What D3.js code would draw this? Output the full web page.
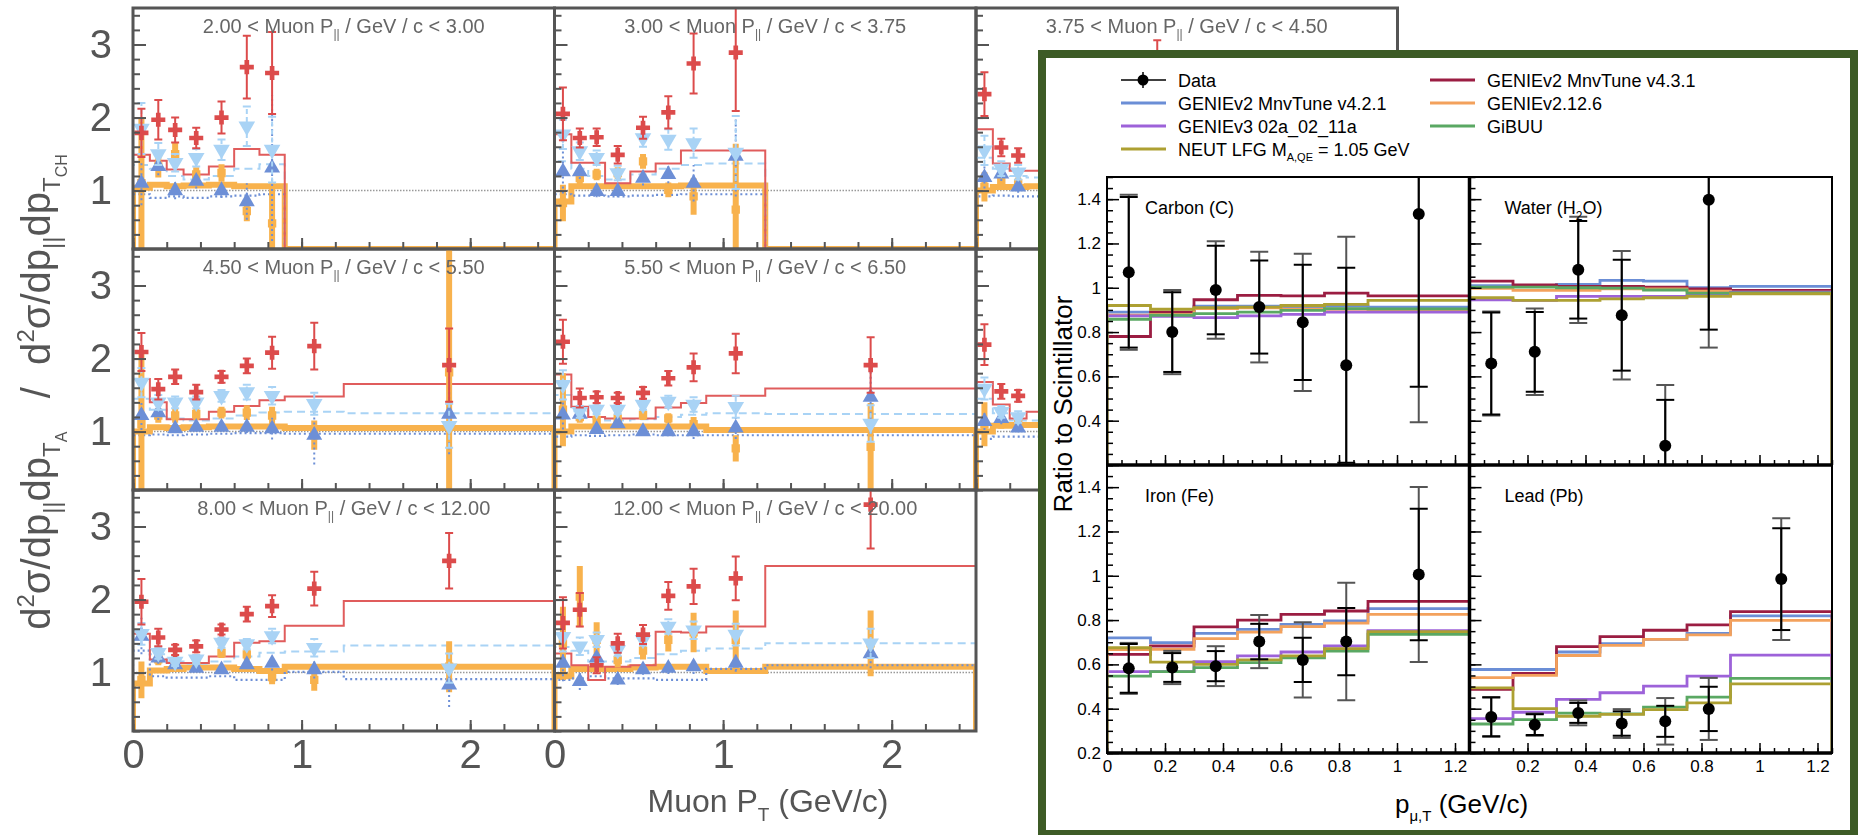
<!DOCTYPE html>
<html>
<head>
<meta charset="utf-8">
<script src="https://cdn.jsdelivr.net/npm/d3@7"></script>
<style>
  body { margin: 0; background: #fff; }
  svg { display: block; }
  text { white-space: pre; }
</style>
</head>
<body>
<div id="chart"></div>
<script>
// ---------- left figure: ratio A / CH in slices of muon p|| ----------
const ptEdges = [0, 0.1, 0.2, 0.3, 0.45, 0.6, 0.75, 0.9, 1.25, 2.5];
const ptCenters = [0.05, 0.15, 0.25, 0.375, 0.525, 0.675, 0.825, 1.075, 1.875];
const sliceLow = ["2.00", "3.00", "3.75", "4.50", "5.50", "", "8.00", "12.00"];
const sliceHigh = ["3.00", "3.75", "4.50", "5.50", "6.50", "", "12.00", "20.00"];

// red crosses
const redVal = [
  [1.79, 1.97, 1.83, 1.72, 2.0, 2.69, 2.61],
  [2.05, 1.72, 1.73, 1.49, 1.86, 2.07, 2.74, 2.89],
  [2.32, 1.59, 1.48, null, null, null, null, 2.6],
  [2.09, 1.58, 1.75, 1.54, 1.75, 1.9, 2.08, 2.17, 1.91],
  [2.23, 1.46, 1.47, 1.46, 1.53, 1.73, 1.88, 2.07, 1.91],
  [2.19, 1.55, 1.49],
  [1.97, 1.48, 1.31, 1.36, 1.59, 1.8, 1.91, 2.15, 2.53],
  [1.68, 1.86, 1.1, 1.4, 1.52, 2.05, 2.18, 2.29, 3.3]
];
const redErr = [
  [0.33, 0.27, 0.17, 0.14, 0.22, 0.43, 0.56],
  [0.36, 0.13, 0.12, 0.12, 0.15, 0.22, 0.41, 0.8],
  [0.3, 0.12, 0.1, null, null, null, null, 0.46],
  [0.26, 0.14, 0.1, 0.1, 0.08, 0.1, 0.22, 0.32, 0.5],
  [0.3, 0.13, 0.08, 0.07, 0.08, 0.1, 0.19, 0.27, 0.38],
  [0.28, 0.1, 0.08],
  [0.31, 0.12, 0.07, 0.08, 0.07, 0.1, 0.15, 0.23, 0.38],
  [0.35, 0.23, 0.11, 0.13, 0.13, 0.19, 0.24, 0.3, 0.6]
];
// light blue down triangles
const downVal = [
  [1.85, 1.5, 1.38, 1.45, 1.56, 1.88, 1.56],
  [1.77, 1.54, 1.45, 1.24, 1.72, 1.7, 1.65, 1.52],
  [1.55, 1.3, 1.25],
  [1.67, 1.4, 1.4, 1.4, 1.49, 1.54, 1.49, 1.38, 1.08],
  [1.64, 1.27, 1.3, 1.3, 1.37, 1.41, 1.37, 1.34, 1.11],
  [1.59, 1.27, 1.2],
  [1.53, 1.27, 1.15, 1.18, 1.41, 1.39, 1.5, 1.34, 1.06],
  [1.49, 1.36, 1.45, 1.31, 1.45, 1.63, 1.58, 1.52, 1.4]
];
const downErr = [
  [0.35, 0.15, 0.12, 0.12, 0.14, 0.27, 0.45],
  [0.2, 0.12, 0.1, 0.1, 0.12, 0.14, 0.2, 0.5],
  [0.2, 0.1, 0.1],
  [0.2, 0.1, 0.08, 0.08, 0.08, 0.1, 0.12, 0.15, 0.3],
  [0.2, 0.08, 0.06, 0.06, 0.07, 0.08, 0.1, 0.15, 0.25],
  [0.15, 0.08, 0.08],
  [0.15, 0.08, 0.06, 0.06, 0.07, 0.07, 0.1, 0.12, 0.2],
  [0.2, 0.12, 0.1, 0.08, 0.08, 0.1, 0.12, 0.15, 0.2]
];
// blue up triangles
const upVal = [
  [1.1, 1.33, 1.0, 1.13, 1.0, 0.85, 1.31],
  [1.26, 1.26, 0.99, 0.99, 1.17, 1.22, 1.1, 1.47],
  [1.18, 1.23, 1.05],
  [1.22, 1.26, 1.04, 1.06, 1.06, 1.06, 1.04, 0.95, 1.24],
  [1.23, 1.24, 1.03, 1.11, 1.0, 1.0, 1.0, 1.05, 1.47],
  [1.14, 1.18, 1.05],
  [1.5, 1.2, 1.11, 1.06, 1.04, 1.11, 1.13, 1.04, 0.83],
  [1.13, 0.88, 1.2, 0.9, 1.04, 1.06, 1.08, 1.13, 1.26]
];
const upErr = [
  [0.3, 0.12, 0.12, 0.1, 0.1, 0.25, 1.0],
  [0.3, 0.1, 0.08, 0.08, 0.1, 0.12, 0.25, 0.55],
  [0.15, 0.1, 0.08],
  [0.2, 0.1, 0.06, 0.06, 0.06, 0.08, 0.15, 0.4, 0.55],
  [0.2, 0.08, 0.06, 0.06, 0.05, 0.06, 0.1, 0.15, 0.5],
  [0.12, 0.08, 0.06],
  [0.25, 0.08, 0.05, 0.05, 0.05, 0.06, 0.1, 0.12, 0.3],
  [0.25, 0.12, 0.08, 0.07, 0.07, 0.08, 0.1, 0.12, 0.2]
];
// orange dots
const orVal = [
  [1.1, 1.33, 1.5, 1.22, 1.24, 0.72, 0.55],
  [0.83, 1.17, 1.22, 1.24, 1.4, 1.01, 0.92, 0.74],
  [1.05, 1.12, 1.1],
  [1.1, 1.22, 1.22, 1.24, 1.26, 1.26, 1.22, 0.95, 1.81],
  [1.3, 1.2, 1.16, 1.18, 1.23, 1.18, 1.1, 0.77, 0.79],
  [1.1, 1.12, 1.1],
  [0.9, 1.18, 1.15, 1.15, 1.27, 1.25, 0.94, 0.9, 1.08],
  [1.4, 2.04, 1.45, 1.17, 1.3, 1.45, 1.55, 1.45, 1.4]
];
const orErr = [
  [0.9, 0.15, 0.15, 0.1, 0.12, 0.14, 0.55],
  [0.25, 0.1, 0.08, 0.08, 0.1, 0.1, 0.25, 0.9],
  [0.2, 0.08, 0.08],
  [1.0, 0.1, 0.1, 0.08, 0.08, 0.1, 0.12, 0.2, 1.7],
  [0.5, 0.08, 0.06, 0.06, 0.07, 0.07, 0.1, 0.18, 0.6],
  [0.3, 0.08, 0.06],
  [0.25, 0.08, 0.06, 0.06, 0.07, 0.08, 0.1, 0.15, 0.35],
  [0.5, 0.42, 0.24, 0.1, 0.12, 0.16, 0.27, 0.4, 0.45]
];
// histograms
const redHist = [
  [1.49, 1.41, 1.29, 1.22, 1.33, 1.57, 1.49, 0, 0],
  [1.77, 1.38, 1.38, 1.1, 1.26, 1.37, 1.55, 1.55, 0],
  [1.84, 1.37, 1.27, 1.27],
  [1.72, 1.40, 1.17, 1.17, 1.27, 1.35, 1.43, 1.48, 1.65],
  [1.78, 1.34, 1.2, 1.18, 1.18, 1.33, 1.39, 1.49, 1.59],
  [1.68, 1.37, 1.18, 1.27],
  [1.53, 1.18, 1.13, 1.13, 1.22, 1.41, 1.43, 1.64, 1.98],
  [1.26, 1.1, 0.9, 1.08, 1.1, 1.56, 1.55, 1.63, 2.46]
];
const lblueHist = [
  [1.35, 1.3, 1.2, 1.15, 1.2, 1.3, 1.36, 0, 0],
  [1.4, 1.3, 1.2, 1.15, 1.22, 1.3, 1.35, 1.37, 0],
  [1.45, 1.3, 1.2, 1.18],
  [1.45, 1.3, 1.18, 1.15, 1.18, 1.22, 1.26, 1.27, 1.25],
  [1.5, 1.28, 1.18, 1.15, 1.17, 1.2, 1.23, 1.25, 1.24],
  [1.45, 1.25, 1.15, 1.15],
  [1.45, 1.25, 1.15, 1.12, 1.15, 1.22, 1.27, 1.29, 1.37],
  [1.35, 1.3, 1.15, 1.15, 1.2, 1.25, 1.3, 1.33, 1.4]
];
const blueHist = [
  [0.95, 0.9, 0.92, 0.9, 0.92, 0.93, 0.95, 0, 0],
  [0.95, 0.93, 0.93, 0.92, 0.93, 0.94, 0.95, 0.95, 0],
  [0.92, 0.93, 0.92, 0.92],
  [0.95, 0.96, 0.95, 0.96, 0.97, 0.98, 0.98, 0.97, 0.97],
  [0.93, 0.95, 0.94, 0.95, 0.96, 0.95, 0.95, 0.95, 0.95],
  [0.9, 0.93, 0.93, 0.93],
  [1.3, 0.95, 0.93, 0.93, 0.95, 0.9, 0.9, 1.01, 0.91],
  [0.9, 0.92, 0.95, 0.92, 0.92, 0.9, 0.9, 1.05, 1.1]
];
const orHist = [
  [1.04, 1.08, 1.06, 1.07, 1.08, 1.06, 1.06, 0, 0],
  [0.85, 1.06, 1.06, 1.06, 1.06, 1.06, 1.07, 1.07, 0],
  [1.0, 1.05, 1.05, 1.06],
  [1.0, 1.06, 1.05, 1.06, 1.07, 1.07, 1.07, 1.05, 1.05],
  [1.0, 1.07, 1.07, 1.07, 1.07, 1.07, 1.07, 1.02, 1.02],
  [1.0, 1.08, 1.09, 1.09],
  [0.85, 1.03, 1.05, 1.07, 1.07, 1.05, 1.02, 1.08, 1.08],
  [0.95, 1.05, 1.05, 1.05, 1.07, 1.08, 1.08, 1.02, 1.08]
];

// ---------- right figure: ratio to scintillator ----------
const ratioEdges = [0, 0.15, 0.3, 0.45, 0.6, 0.75, 0.9, 1.25];
const ratioCenters = [0.075, 0.225, 0.375, 0.525, 0.675, 0.825, 1.075];
const targets = ["Carbon (C)", "Water (H2O)", "Iron (Fe)", "Lead (Pb)"];
const dataRatio = [
  [1.07, 0.80, 0.99, 0.913, 0.844, 0.65, 1.333],
  [0.658, 0.711, 1.081, 0.876, 0.287, 1.397, null],
  [0.582, 0.586, 0.592, 0.703, 0.62, 0.703, 1.006],
  [0.363, 0.328, 0.381, 0.333, 0.343, 0.399, 0.985]
];
const statErr = [
  [0.34, 0.18, 0.20, 0.21, 0.26, 0.44, 0.78],
  [0.23, 0.18, 0.22, 0.25, 0.207, 0.586, null],
  [0.11, 0.065, 0.068, 0.08, 0.10, 0.152, 0.297],
  [0.087, 0.047, 0.045, 0.055, 0.07, 0.10, 0.23]
];
const totalErr = [
  [0.35, 0.19, 0.22, 0.25, 0.31, 0.58, 0.94],
  [0.235, 0.195, 0.24, 0.29, 0.274, 0.667, null],
  [0.115, 0.075, 0.09, 0.12, 0.17, 0.265, 0.395],
  [0.09, 0.05, 0.056, 0.065, 0.105, 0.14, 0.275]
];
const mnv421 = [
  [0.89, 0.89, 0.917, 0.917, 0.913, 0.917, 0.913],
  [1.01, 1.006, 1.015, 1.033, 1.03, 1.0, 1.006],
  [0.72, 0.698, 0.74, 0.758, 0.781, 0.796, 0.852],
  [0.577, 0.577, 0.656, 0.694, 0.713, 0.74, 0.819]
];
const mnv431 = [
  [0.78, 0.89, 0.946, 0.966, 0.963, 0.976, 0.963],
  [1.03, 1.013, 1.006, 1.006, 1.003, 0.995, 0.988],
  [0.645, 0.683, 0.769, 0.8, 0.826, 0.841, 0.884],
  [0.487, 0.559, 0.68, 0.725, 0.754, 0.778, 0.838]
];
const genie2126 = [
  [0.876, 0.88, 0.906, 0.909, 0.903, 0.903, 0.895],
  [0.997, 0.988, 0.988, 0.995, 0.995, 0.985, 0.98],
  [0.667, 0.668, 0.716, 0.746, 0.77, 0.786, 0.826],
  [0.54, 0.55, 0.64, 0.686, 0.713, 0.733, 0.799]
];
const genie3 = [
  [0.873, 0.871, 0.865, 0.873, 0.88, 0.89, 0.89],
  [0.946, 0.943, 0.961, 0.961, 0.961, 0.966, 0.98],
  [0.567, 0.567, 0.612, 0.638, 0.656, 0.683, 0.752],
  [0.355, 0.384, 0.442, 0.472, 0.502, 0.547, 0.642]
];
const gibuu = [
  [0.858, 0.876, 0.883, 0.89, 0.898, 0.906, 0.905],
  [1.003, 1.003, 1.0, 0.998, 0.99, 0.976, 0.977],
  [0.547, 0.567, 0.585, 0.608, 0.63, 0.66, 0.736],
  [0.331, 0.351, 0.38, 0.377, 0.407, 0.452, 0.537]
];
const neut = [
  [0.92, 0.903, 0.91, 0.913, 0.92, 0.925, 0.943],
  [0.955, 0.943, 0.943, 0.95, 0.955, 0.961, 0.973],
  [0.675, 0.61, 0.60, 0.62, 0.638, 0.671, 0.748],
  [0.494, 0.40, 0.366, 0.374, 0.396, 0.426, 0.512]
];

const models = [mnv421, mnv431, genie2126, genie3, gibuu, neut];
const modelColors = ["#6b8ed6", "#9b1d42", "#f3a15c", "#9d62d9", "#5aa863", "#ada032"];
// legend, filled row by row in two columns
const legendLabels = ["Data", "GENIEv2 MnvTune v4.3.1", "GENIEv2 MnvTune v4.2.1", "GENIEv2.12.6",
                      "GENIEv3 02a_02_11a", "GiBUU", "NEUT"];
const legendColors = ["#000", "#9b1d42", "#6b8ed6", "#f3a15c", "#9d62d9", "#5aa863", "#ada032"];

const font = "'Liberation Sans', Arial, Helvetica, sans-serif";
const svg = d3.select("#chart").append("svg")
    .attr("width", 1862).attr("height", 835)
    .style("font-family", font);
const defs = svg.append("defs");
defs.append("filter").attr("id", "soft")
  .append("feGaussianBlur").attr("stdDeviation", 0.7);

// text with sub/superscripts: parts = [text, size, baseline shift]
function richText(sel, parts) {
  let prev = 0;
  parts.forEach(([t, size, shift]) => {
    sel.append("tspan").attr("font-size", size).attr("dy", shift - prev).text(t);
    prev = shift;
  });
  return sel;
}

function stepLine(x, y) {
  return d3.line().x(p => x(p[0])).y(p => y(p[1])).curve(d3.curveStepAfter);
}
function stepPoints(vals, edges, ymin) {
  const pts = [[edges[0], ymin]];
  vals.forEach((v, k) => pts.push([edges[k], Math.max(v, ymin)]));
  pts.push([edges[vals.length], Math.max(vals[vals.length - 1], ymin)]);
  pts.push([edges[vals.length], ymin]);
  return pts;
}

// ===== left figure =====
const leftG = svg.append("g").attr("filter", "url(#soft)");
const colW = 421.5, rowH = 241, lx0 = 133, ly0 = 8;
const grey = "#555";

sliceLow.forEach((lo, i) => {
  const col = i % 3, row = Math.floor(i / 3);
  const x0 = lx0 + col * colW, y0 = ly0 + row * rowH;
  const x = d3.scaleLinear().domain([0, 2.5]).range([x0, x0 + colW]);
  const y = d3.scaleLinear().domain([0.2, 3.5]).range([y0 + rowH, y0]);
  const ymin = 0.2;

  defs.append("clipPath").attr("id", "lc" + i).append("rect")
    .attr("x", x0).attr("y", y0).attr("width", colW).attr("height", rowH);
  const g = leftG.append("g");
  const inner = g.append("g").attr("clip-path", `url(#lc${i})`);

  inner.append("line")
    .attr("x1", x(0)).attr("x2", x(2.5)).attr("y1", y(1)).attr("y2", y(1))
    .attr("stroke", "#999").attr("stroke-width", 1.5).attr("stroke-dasharray", "1.5,1.5");

  const line = stepLine(x, y);
  inner.append("path").attr("d", line(stepPoints(orHist[i], ptEdges, ymin)))
    .attr("fill", "none").attr("stroke", "#f8b24e").attr("stroke-width", 6);
  inner.append("path").attr("d", line(stepPoints(blueHist[i], ptEdges, ymin)))
    .attr("fill", "none").attr("stroke", "#6d8fd6").attr("stroke-width", 2.2)
    .attr("stroke-dasharray", "2,3");
  inner.append("path").attr("d", line(stepPoints(lblueHist[i], ptEdges, ymin)))
    .attr("fill", "none").attr("stroke", "#a9d3f5").attr("stroke-width", 2)
    .attr("stroke-dasharray", "8,5");
  inner.append("path").attr("d", line(stepPoints(redHist[i], ptEdges, ymin)))
    .attr("fill", "none").attr("stroke", "#e05c5c").attr("stroke-width", 2);

  // points with error bars
  function series(vals, errs, color, width, dash, symbol, rot, cap) {
    vals.forEach((v, k) => {
      if (v == null) return;
      const e = errs[k], cx = x(ptCenters[k]);
      inner.append("line").attr("x1", cx).attr("x2", cx)
        .attr("y1", y(v - e)).attr("y2", y(v + e))
        .attr("stroke", color).attr("stroke-width", width)
        .attr("stroke-dasharray", dash);
      if (cap) {
        [v - e, v + e].forEach(t => inner.append("line")
          .attr("x1", cx - cap).attr("x2", cx + cap).attr("y1", y(t)).attr("y2", y(t))
          .attr("stroke", color).attr("stroke-width", 2));
      }
      inner.append("path").attr("d", symbol)
        .attr("transform", `translate(${cx},${y(v)}) rotate(${rot})`)
        .attr("fill", color);
    });
  }
  series(orVal[i], orErr[i], "#f8b24e", 6, null, d3.symbol(d3.symbolSquare, 70)(), 0, 0);
  series(upVal[i], upErr[i], "#6d8fd6", 2, "2,3", d3.symbol(d3.symbolTriangle, 110)(), 0, 0);
  series(downVal[i], downErr[i], "#a9d3f5", 2, "5,3", d3.symbol(d3.symbolTriangle, 120)(), 180, 4);
  series(redVal[i], redErr[i], "#dc4c4c", 2, null, d3.symbol(d3.symbolCross, 110)(), 0, 4);

  // axes ticks (ROOT style, inside)
  const tick = (axis, tx, ty) => {
    const a = g.append("g").attr("transform", `translate(${tx},${ty})`).call(axis);
    a.select(".domain").remove();
    a.selectAll("line").attr("stroke", grey).attr("stroke-width", 2);
    return a;
  };
  tick(d3.axisRight(y).tickValues(d3.range(1, 18).map(k => k * 0.2)).tickSize(7).tickFormat(""), x0, 0);
  tick(d3.axisRight(y).tickValues([1, 2, 3]).tickSize(13).tickFormat(""), x0, 0);
  tick(d3.axisTop(x).tickValues(d3.range(0, 13).map(k => k * 0.2)).tickSize(7).tickFormat(""), 0, y0 + rowH);
  tick(d3.axisTop(x).tickValues([0, 1, 2]).tickSize(11).tickFormat(""), 0, y0 + rowH);

  g.append("rect").attr("x", x0).attr("y", y0).attr("width", colW).attr("height", rowH)
    .attr("fill", "none").attr("stroke", grey).attr("stroke-width", 3);

  if (col === 0) {
    const a = g.append("g").attr("transform", `translate(${x0},0)`)
      .call(d3.axisLeft(y).tickValues([1, 2, 3]).tickSize(0).tickPadding(21).tickFormat(d3.format("d")));
    a.select(".domain").remove();
    a.selectAll("text").attr("font-size", 40).attr("fill", grey).attr("font-family", font);
  }
  if (row === 2) {
    const a = g.append("g").attr("transform", `translate(0,${y0 + rowH})`)
      .call(d3.axisBottom(x).tickValues([0, 1, 2]).tickSize(0).tickPadding(9).tickFormat(d3.format("d")));
    a.select(".domain").remove();
    a.selectAll("text").attr("font-size", 40).attr("fill", grey).attr("font-family", font);
  }
  if (lo) {
    richText(g.append("text").attr("x", x0 + colW / 2).attr("y", y0 + 25)
      .attr("text-anchor", "middle").attr("fill", "#666"),
      [[`${lo} < Muon P`, 20, 0], ["||", 12, 5], [` / GeV / c < ${sliceHigh[i]}`, 20, 0]]);
  }
});

// left axis titles
richText(leftG.append("text").attr("transform", "translate(50,392) rotate(-90)")
  .attr("text-anchor", "middle").attr("fill", grey),
  [["d", 40, 0], ["2", 24, -16], ["σ/dp", 40, 0], ["||", 24, 10], ["dp", 40, 0], ["T", 24, 10], ["A", 16, 17],
   ["   /  d", 40, 0], ["2", 24, -16], ["σ/dp", 40, 0], ["||", 24, 10], ["dp", 40, 0], ["T", 24, 10], ["CH", 16, 17]]);
richText(leftG.append("text").attr("x", 768).attr("y", 812)
  .attr("text-anchor", "middle").attr("fill", grey),
  [["Muon P", 32, 0], ["T", 19, 9], [" (GeV/c)", 32, 0]]);

// ===== right figure =====
svg.append("rect").attr("x", 1042).attr("y", 54).attr("width", 812).attr("height", 780)
  .attr("fill", "#fff").attr("stroke", "#3d5b26").attr("stroke-width", 8);

const padW = 362.5, padH = 288, rx0 = 1107, ry0 = 177;

targets.forEach((name, t) => {
  const col = t % 2, row = Math.floor(t / 2);
  const x0 = rx0 + col * padW, y0 = ry0 + row * padH;
  const x = d3.scaleLinear().domain([0, 1.25]).range([x0, x0 + padW]);
  const y = d3.scaleLinear().domain([0.2, 1.5]).range([y0 + padH, y0]);
  defs.append("clipPath").attr("id", "rc" + t).append("rect")
    .attr("x", x0).attr("y", y0).attr("width", padW).attr("height", padH);
  const g = svg.append("g");
  const inner = g.append("g").attr("clip-path", `url(#rc${t})`);
  const line = stepLine(x, y);

  models.forEach((m, k) => {
    inner.append("path").attr("d", line(stepPoints(m[t], ratioEdges, 0.2)))
      .attr("fill", "none").attr("stroke", modelColors[k]).attr("stroke-width", 2.8);
  });

  dataRatio[t].forEach((v, k) => {
    if (v == null) return;
    const cx = x(ratioCenters[k]);
    [[totalErr[t][k], "#555"], [statErr[t][k], "#000"]].forEach(([e, c]) => {
      inner.append("line").attr("x1", cx).attr("x2", cx).attr("y1", y(v - e)).attr("y2", y(v + e))
        .attr("stroke", c).attr("stroke-width", 2);
      [v - e, v + e].forEach(q => inner.append("line")
        .attr("x1", cx - 9).attr("x2", cx + 9).attr("y1", y(q)).attr("y2", y(q))
        .attr("stroke", c).attr("stroke-width", 2));
    });
    inner.append("circle").attr("cx", cx).attr("cy", y(v)).attr("r", 6).attr("fill", "#000");
  });

  const tick = (axis, tx, ty) => {
    const a = g.append("g").attr("transform", `translate(${tx},${ty})`).call(axis);
    a.select(".domain").remove();
    a.selectAll("line").attr("stroke", "#000").attr("stroke-width", 1.5);
    return a;
  };
  tick(d3.axisRight(y).tickValues(d3.range(4, 31).map(k => k * 0.05)).tickSize(6).tickFormat(""), x0, 0);
  tick(d3.axisRight(y).tickValues(d3.range(1, 8).map(k => k * 0.2)).tickSize(12).tickFormat(""), x0, 0);
  tick(d3.axisTop(x).tickValues(d3.range(0, 26).map(k => k * 0.05)).tickSize(5).tickFormat(""), 0, y0 + padH);
  tick(d3.axisTop(x).tickValues(d3.range(0, 7).map(k => k * 0.2)).tickSize(10).tickFormat(""), 0, y0 + padH);

  g.append("rect").attr("x", x0).attr("y", y0).attr("width", padW).attr("height", padH)
    .attr("fill", "none").attr("stroke", "#000").attr("stroke-width", 2);
  g.append("line").attr("x1", x0).attr("x2", x0 + padW).attr("y1", y0 + padH).attr("y2", y0 + padH)
    .attr("stroke", "#000").attr("stroke-width", 3.5);
  if (col === 1) {
    g.append("line").attr("x1", x0).attr("x2", x0).attr("y1", y0).attr("y2", y0 + padH)
      .attr("stroke", "#000").attr("stroke-width", 3.5);
  }

  const fmt = d => String(+d.toFixed(1));
  if (col === 0) {
    const yl = row === 0 ? [0.4, 0.6, 0.8, 1, 1.2, 1.4] : [0.2, 0.4, 0.6, 0.8, 1, 1.2, 1.4];
    const a = g.append("g").attr("transform", `translate(${x0},0)`)
      .call(d3.axisLeft(y).tickValues(yl).tickSize(0).tickPadding(6).tickFormat(fmt));
    a.select(".domain").remove();
    a.selectAll("text").attr("font-size", 17).attr("fill", "#000").attr("font-family", font);
  }
  if (row === 1) {
    const xl = col === 0 ? [0, 0.2, 0.4, 0.6, 0.8, 1, 1.2] : [0.2, 0.4, 0.6, 0.8, 1, 1.2];
    const a = g.append("g").attr("transform", `translate(0,${y0 + padH})`)
      .call(d3.axisBottom(x).tickValues(xl).tickSize(0).tickPadding(7).tickFormat(fmt));
    a.select(".domain").remove();
    a.selectAll("text").attr("font-size", 17).attr("fill", "#000").attr("font-family", font);
  }

  const lab = g.append("text").attr("x", x0 + (col === 0 ? 38 : 35)).attr("y", y0 + 37)
    .attr("fill", "#000");
  if (name === "Water (H2O)") {
    richText(lab, [["Water (H", 18, 0], ["2", 12, 6], ["O)", 18, 0]]);
  } else {
    richText(lab, [[name, 18, 0]]);
  }
});

// right axis titles
svg.append("text").attr("transform", "translate(1072,404) rotate(-90)")
  .attr("text-anchor", "middle").attr("font-size", 26).text("Ratio to Scintillator");
richText(svg.append("text").attr("x", 1395).attr("y", 813),
  [["p", 26, 0], ["μ,T", 15, 8], [" (GeV/c)", 26, 0]]);

// legend
legendLabels.forEach((label, i) => {
  const col = i % 2, row = Math.floor(i / 2);
  const lx = col === 0 ? 1121 : 1430, ly = 80 + row * 23;
  const g = svg.append("g");
  g.append("line").attr("x1", lx).attr("x2", lx + 45).attr("y1", ly).attr("y2", ly)
    .attr("stroke", legendColors[i]).attr("stroke-width", i === 0 ? 1.5 : 3);
  if (i === 0) {
    g.append("line").attr("x1", lx + 22).attr("x2", lx + 22).attr("y1", ly - 8).attr("y2", ly + 8)
      .attr("stroke", "#000").attr("stroke-width", 1.5);
    g.append("circle").attr("cx", lx + 22).attr("cy", ly).attr("r", 5.5).attr("fill", "#000");
  }
  const txt = g.append("text").attr("x", lx + 57).attr("y", ly + 6.5).attr("fill", "#000");
  if (label === "NEUT") {
    richText(txt, [["NEUT LFG M", 18, 0], ["A,QE", 11, 5], [" = 1.05 GeV", 18, 0]]);
  } else {
    richText(txt, [[label, 18, 0]]);
  }
});
</script>
</body>
</html>
